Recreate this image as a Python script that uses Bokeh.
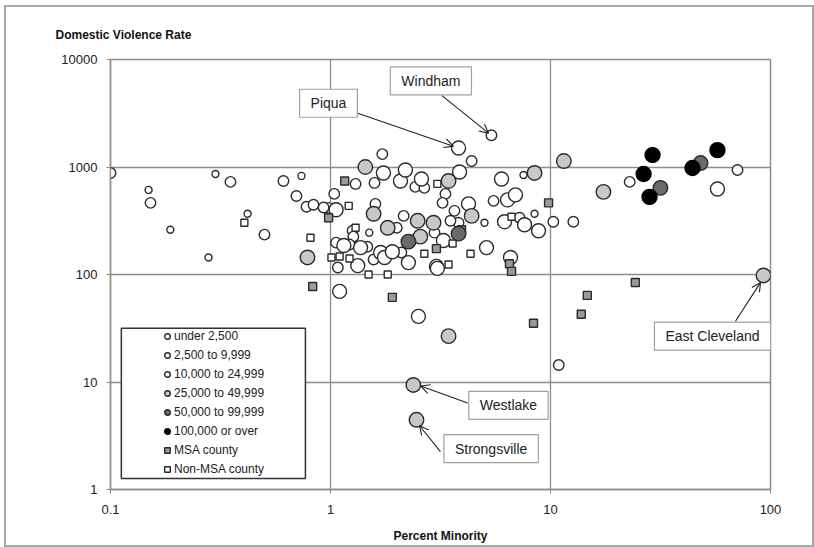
from bokeh.plotting import figure
from bokeh.layouts import column
from bokeh.models import (FixedTicker, CustomJSTickFormatter, Label, Arrow, OpenHead,
                          BoxAnnotation, Legend, LegendItem)
from bokeh.embed import file_html
from bokeh.resources import INLINE

# ---------------- data (Percent Minority, Domestic Violence Rate) ----------------
under2500_x = [0.149, 0.300, 0.187, 0.279, 0.42, 0.738, 1.50, 7.54, 5.01, 8.46]
under2500_y = [612, 861, 261, 144, 367, 826, 245, 843, 303, 367]

pop2500_x = [0.1, 0.152, 0.351, 0.501, 0.611, 0.700, 0.778, 0.837, 0.98, 1.04, 1.30, 1.72,
             1.585, 1.60, 2.43, 2.67, 2.15, 2.0, 2.97, 1.26, 1.27, 1.06, 1.22, 1.47, 1.08,
             1.57, 2.10, 5.39, 4.38, 3.33, 3.23, 5.51, 3.66, 7.23, 10.3, 12.7, 22.9, 70.8,
             3.82, 3.51, 10.9, 0.93]
pop2500_y = [880, 464, 727, 235, 741, 538, 427, 445, 417, 562, 696, 1318,
             711, 454, 653, 640, 351, 272, 245, 255, 225, 198, 190, 181, 116,
             138, 160, 1977, 1137, 562, 464, 484, 391, 337, 310, 310, 727, 938,
             303, 316, 14.4, 420]

pop10000_x = [1.06, 1.74, 2.08, 2.19, 2.59, 1.15, 1.37, 1.33, 1.69, 1.76, 1.91, 2.26, 3.03,
              1.10, 3.82, 3.86, 5.99, 4.24, 6.38, 6.93, 6.18, 7.62, 8.82, 5.12, 3.26, 6.58,
              3.06, 57.4, 2.51]
pop10000_y = [400, 880, 741, 938, 774, 186, 178, 121, 160, 144, 163, 129, 119,
              69.7, 1500, 899, 774, 454, 494, 550, 310, 290, 255, 178, 207, 144,
              114, 625, 40.8]

pop25000_x = [0.786, 1.44, 1.57, 1.82, 2.49, 2.94, 2.56, 3.44, 8.46, 11.5, 17.4, 4.38,
              92.9, 3.44, 2.38, 2.46]
pop25000_y = [144, 1000, 367, 272, 316, 303, 225, 741, 880, 1137, 587, 351,
              97.9, 26.7, 9.38, 4.45]

pop50000_x = [2.26, 3.82, 31.6, 48.1]
pop50000_y = [202, 240, 640, 1089]

pop100000_x = [29.1, 26.5, 28.2, 44.2, 57.4]
pop100000_y = [1291, 861, 527, 979, 1435]

msa_x = [0.98, 1.16, 3.03, 0.83, 1.91, 9.8, 3.94, 6.51, 6.65, 14.7, 24.3, 13.8, 8.37]
msa_y = [337, 741, 174, 77.4, 61.3, 464, 261, 126, 107, 63.9, 84.3, 42.7, 35.2]

nonmsa_x = [0.406, 0.811, 1.01, 1.21, 3.06, 1.30, 1.10, 1.22, 2.67, 1.49, 1.82, 6.65,
            3.59, 4.33, 3.44]
nonmsa_y = [303, 220, 144, 435, 696, 272, 147, 141, 156, 100, 100, 344,
            194, 156, 124]

legend_labels = ["under 2,500", "2,500 to 9,999", "10,000 to 24,999", "25,000 to 49,999",
                 "50,000 to 99,999", "100,000 or over", "MSA county", "Non-MSA county"]

x_ticks = [0.1, 1, 10, 100]
y_ticks = [1, 10, 100, 1000, 10000]

callouts = [
    # text, label x, label y, arrow start x, y, arrow end x, y
    ("Piqua", 0.979, 3917, 1.33, 3162, 3.62, 1563),
    ("Windham", 2.86, 6324, 3.2, 4642, 5.23, 2065),
    ("East Cleveland", 54.5, 26.7, 69.3, 36.7, 90.1, 84.4),
    ("Westlake", 6.44, 6.05, 4.2, 6.39, 2.57, 9.18),
    ("Strongsville", 5.37, 2.40, 3.16, 2.25, 2.54, 3.92),
]

FONT = "Liberation Sans"
EDGE = "#2b2b2b"
GRID = "#8c8c8c"

p = figure(width=806, height=538, x_axis_type="log", y_axis_type="log",
           x_range=(0.1, 100), y_range=(1, 10000), output_backend="svg",
           toolbar_location=None, min_border_left=104, min_border_right=42,
           min_border_top=52, min_border_bottom=55, background_fill_color="white",
           border_fill_color="white")

# y axis title, written horizontally above the plot area
p.title.text = "Domestic Violence Rate"
p.title.align = "left"
p.title.offset = -55
p.title.standoff = 35
p.title.text_font = FONT
p.title.text_font_size = "12px"
p.title.text_font_style = "bold"
p.title.text_color = "#111111"

p.outline_line_color = GRID
p.outline_line_width = 1.5
p.grid.grid_line_color = GRID
p.grid.grid_line_width = 1.3
p.xaxis.ticker = FixedTicker(ticks=x_ticks, num_minor_ticks=0)
p.yaxis.ticker = FixedTicker(ticks=y_ticks, num_minor_ticks=0)
p.xgrid.ticker = FixedTicker(ticks=x_ticks, num_minor_ticks=0)
p.ygrid.ticker = FixedTicker(ticks=y_ticks, num_minor_ticks=0)
p.xaxis.formatter = CustomJSTickFormatter(code="return tick.toString();")
p.yaxis.formatter = CustomJSTickFormatter(code="return tick.toString();")
p.axis.axis_line_color = GRID
p.axis.axis_line_width = 1.3
p.axis.major_tick_line_color = GRID
p.axis.major_tick_out = 4
p.axis.major_tick_in = 0
p.axis.minor_tick_line_color = None
p.axis.major_label_text_font = FONT
p.axis.major_label_text_font_size = "13px"
p.axis.major_label_text_color = "#222222"
p.yaxis.major_label_standoff = 9
p.xaxis.major_label_standoff = 11
p.xaxis.axis_label = "Percent Minority"
p.xaxis.axis_label_text_font = FONT
p.xaxis.axis_label_text_font_size = "12px"
p.xaxis.axis_label_text_font_style = "bold"
p.xaxis.axis_label_text_color = "#111111"
p.xaxis.axis_label_standoff = 12

common = dict(line_color=EDGE, line_width=1.4)
r1 = p.scatter(under2500_x, under2500_y, marker="circle", size=7, fill_color="white", **common)
r2 = p.scatter(pop2500_x, pop2500_y, marker="circle", size=10.5, fill_color="white", **common)
r3 = p.scatter(pop10000_x, pop10000_y, marker="circle", size=14, fill_color="white", **common)
r7 = p.scatter(msa_x, msa_y, marker="square", size=8, fill_color="#9a9a9a", **common)
r8 = p.scatter(nonmsa_x, nonmsa_y, marker="square", size=7, fill_color="white", **common)
r4 = p.scatter(pop25000_x, pop25000_y, marker="circle", size=14.5, fill_color="#c8c8c8", **common)
r5 = p.scatter(pop50000_x, pop50000_y, marker="circle", size=14.5, fill_color="#6a6a6a", **common)
r6 = p.scatter(pop100000_x, pop100000_y, marker="circle", size=15, fill_color="#000000",
               line_color="#000000", line_width=1.4)

# legend box
p.add_layout(BoxAnnotation(left=0.112, right=0.769, top=31.6, bottom=1.265,
                           fill_color="white", fill_alpha=1, line_color="#333333",
                           line_alpha=1, line_width=1.5))

items = [LegendItem(label=lab, renderers=[r]) for lab, r in
         zip(legend_labels, [r1, r2, r3, r4, r5, r6, r7, r8])]
legend = Legend(items=items, location=(50, 11), padding=0, spacing=1, margin=0,
                glyph_width=14, glyph_height=18, label_height=18, label_standoff=0,
                label_text_font=FONT, label_text_font_size="12px", label_text_color="#222222",
                border_line_alpha=0, background_fill_alpha=0)
p.add_layout(legend)

for text, lx, ly, sx, sy, ex, ey in callouts:
    p.add_layout(Arrow(end=OpenHead(size=9, line_width=1.1, line_color="#222222"),
                       x_start=sx, y_start=sy, x_end=ex, y_end=ey,
                       line_width=1.1, line_color="#222222"))
for text, lx, ly, sx, sy, ex, ey in callouts:
    p.add_layout(Label(x=lx, y=ly, text=text, text_align="center", text_baseline="middle",
                       text_font=FONT, text_font_size="14px", text_color="#222222",
                       border_line_color="#a0a0a0", border_line_width=1.2,
                       background_fill_color="white", padding=(11, 6)))

# outer grey frame of the picture
page = column(p, margin=(5, 0, 0, 4), styles={"border": "2px solid #a8a8a8"})

open("out.html", "w").write(file_html(page, INLINE))
